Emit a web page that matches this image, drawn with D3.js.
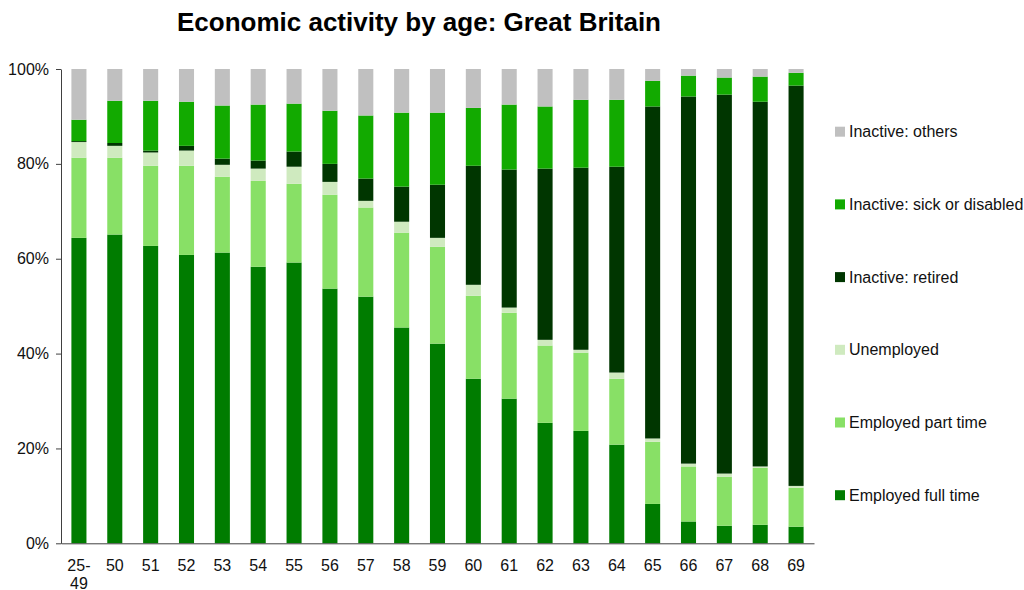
<!DOCTYPE html>
<html><head><meta charset="utf-8">
<script src="https://cdn.jsdelivr.net/npm/d3@7"></script>
<style>body{margin:0;background:#fff;}svg{display:block;font-family:"Liberation Sans",Arial,sans-serif;}</style>
</head><body>
<script>
const categories = ["25-49","50","51","52","53","54","55","56","57","58","59","60","61","62","63","64","65","66","67","68","69"];
const seriesNames = ["Employed full time","Employed part time","Unemployed","Inactive: retired","Inactive: sick or disabled","Inactive: others"];
const fullTime  = [64.4,65.1,62.7,60.8,61.3,58.3,59.2,53.7,52.0,45.5,42.1,34.7,30.5,25.4,23.7,20.8,8.3,4.6,3.7,3.9,3.5];
const partTime  = [16.9,16.2,16.9,18.8,16.0,18.1,16.6,19.8,18.8,20.0,20.4,17.5,18.1,16.3,16.5,13.9,13.1,11.6,10.3,12.0,8.2];
const unemployed= [3.3,2.5,2.8,3.2,2.5,2.6,3.6,2.7,1.4,2.3,1.9,2.3,1.1,1.2,0.6,1.3,0.7,0.6,0.7,0.3,0.4];
const retired   = [0.2,0.6,0.4,1.0,1.3,1.7,3.2,3.8,4.7,7.4,11.2,25.1,29.1,36.1,38.4,43.4,70.0,77.4,79.9,76.9,84.4];
const sick      = [4.5,8.9,10.5,9.3,11.2,11.8,10.1,11.2,13.3,15.6,15.2,12.2,13.7,13.1,14.3,14.1,5.4,4.4,3.6,5.3,2.7];
const others    = [10.7,6.7,6.7,6.9,7.7,7.5,7.3,8.8,9.8,9.2,9.2,8.2,7.5,7.9,6.5,6.5,2.5,1.4,1.8,1.6,0.8];
const yTicks = [0,20,40,60,80,100];
const colors = ["#007c00","#88e066","#cfeabf","#003600","#12aa00","#c0c0c0"];

(function(){
const seriesValues = [fullTime,partTime,unemployed,retired,sick,others];
const keys = ["ft","pt","un","re","si","ot"];
const rows = categories.map((c,i)=>{const r={cat:c};keys.forEach((k,j)=>r[k]=seriesValues[j][i]);return r;});

const W=1024,H=590;
const svg=d3.select("body").append("svg").attr("width",W).attr("height",H);
const mLeft=61,mRight=814,mTop=69,mBottom=543.3;
const x=d3.scaleBand().domain(categories).range([mLeft,mRight]).paddingInner(0.58).paddingOuter(0.29);
const y=d3.scaleLinear().domain([0,100]).range([mBottom,mTop]);
const stack=d3.stack().keys(keys)(rows);

svg.append("text").attr("x",419).attr("y",31).attr("text-anchor","middle")
  .attr("font-size",26).attr("font-weight","bold").attr("fill","#000")
  .text("Economic activity by age: Great Britain");

svg.append("g").selectAll("g").data(stack).join("g").attr("fill",(d,i)=>colors[i])
  .selectAll("rect").data(d=>d).join("rect")
  .attr("x",d=>x(d.data.cat)).attr("width",x.bandwidth())
  .attr("y",d=>y(Math.min(100,d[1]))).attr("height",d=>y(d[0])-y(Math.min(100,d[1])));

const ya=svg.append("g").attr("transform",`translate(${mLeft},0)`)
  .call(d3.axisLeft(y).tickValues(yTicks).tickFormat(d=>d+"%").tickSize(5).tickSizeOuter(0));
ya.select(".domain").attr("stroke","#404040");
ya.selectAll(".tick line").attr("stroke","#404040");
ya.selectAll(".tick text").attr("font-size",16).attr("fill","#111").attr("x",-12).attr("font-family","Liberation Sans, Arial, sans-serif");

const xa=svg.append("g").attr("transform",`translate(0,${mBottom})`)
  .call(d3.axisBottom(x).tickSize(0).tickSizeOuter(0));
xa.select(".domain").attr("stroke","#404040");
xa.selectAll(".tick text").attr("font-size",16).attr("fill","#111").attr("font-family","Liberation Sans, Arial, sans-serif")
  .each(function(d){
    const t=d3.select(this); t.text(null).attr("y",0).attr("dy",null);
    const parts=d.includes("-")?[d.split("-")[0]+"-",d.split("-")[1]]:[d];
    parts.forEach((p,i)=>t.append("tspan").attr("x",0).attr("y",28+i*18).text(p));
  });

const lg=svg.append("g");
const order=[5,4,3,2,1,0];
order.forEach((si,i)=>{
  const yy=131.7+i*72.7;
  lg.append("rect").attr("x",835).attr("y",yy-5).attr("width",10).attr("height",10).attr("fill",colors[si]);
  lg.append("text").attr("x",849).attr("y",yy+5.5).attr("font-size",16).attr("fill","#111").text(seriesNames[si]);
});
})();
</script>
</body></html>
